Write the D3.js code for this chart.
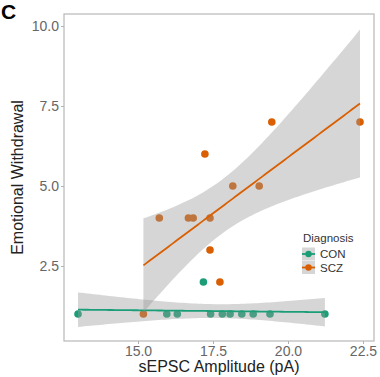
<!DOCTYPE html>
<html>
<head>
<meta charset="utf-8">
<script src="https://cdn.jsdelivr.net/npm/d3@7"></script>
<style>
  html, body { margin: 0; padding: 0; background: #fff; }
  svg { display: block; font-family: "Liberation Sans", Arial, sans-serif; }
</style>
</head>
<body>
<svg id="chart" width="380" height="377"></svg>
<script>
// ---- data ----
const groups = ["CON", "SCZ"];
const groupColors = ["#1b9e77", "#d95f02"];
const conAmplitude = [13.0, 15.96, 16.31, 17.18, 17.42, 17.81, 18.07, 18.46, 18.84, 19.4, 21.23];
const conWithdrawal = [1, 1, 1, 2, 1, 1, 1, 1, 1, 1, 1];
const sczAmplitude = [15.18, 15.71, 16.68, 16.84, 17.23, 17.4, 17.4, 17.73, 18.16, 19.04, 19.46, 22.4];
const sczWithdrawal = [1, 4, 4, 4, 6, 4, 3, 2, 5, 5, 7, 7];
const xTicks = [15.0, 17.5, 20.0, 22.5];
const yTicks = [2.5, 5.0, 7.5, 10.0];
const xDomain = [12.533, 22.867];
const yDomain = [0.156, 10.375];
const tCrit = {9: 2.262, 10: 2.228};

const svg = d3.select("#chart");
const L = 64, R = 374, T = 14, B = 341;
const x = d3.scaleLinear().domain(xDomain).range([L, R]);
const y = d3.scaleLinear().domain(yDomain).range([B, T]);

svg.append("rect").attr("x", L).attr("y", T).attr("width", R - L).attr("height", B - T).attr("fill", "#fff");

const data = [
  {name: groups[0], color: groupColors[0], xs: conAmplitude, ys: conWithdrawal},
  {name: groups[1], color: groupColors[1], xs: sczAmplitude, ys: sczWithdrawal}
];

// points
data.forEach(g => {
  svg.append("g").selectAll("circle").data(g.xs.map((v, i) => [v, g.ys[i]])).join("circle")
    .attr("cx", d => x(d[0])).attr("cy", d => y(d[1])).attr("r", 3.8)
    .attr("fill", g.color);
});

// linear fit with 95% CI
function fit(xs, ys) {
  const n = xs.length;
  const mx = d3.mean(xs), my = d3.mean(ys);
  let sxy = 0, sxx = 0;
  xs.forEach((v, i) => { sxy += (v - mx) * (ys[i] - my); sxx += (v - mx) * (v - mx); });
  const b = sxy / sxx, a = my - b * mx;
  let sse = 0;
  xs.forEach((v, i) => { const r = ys[i] - (a + b * v); sse += r * r; });
  const s = Math.sqrt(sse / (n - 2));
  const t = tCrit[n - 2] || 2.2;
  const [x0, x1] = d3.extent(xs);
  return d3.range(0, 81).map(k => {
    const xv = x0 + (x1 - x0) * k / 80;
    const yv = a + b * xv;
    const se = s * Math.sqrt(1 / n + (xv - mx) * (xv - mx) / sxx);
    return {x: xv, y: yv, lo: yv - t * se, hi: yv + t * se};
  });
}

data.forEach(g => {
  const pts = fit(g.xs, g.ys);
  svg.append("path").datum(pts)
    .attr("d", d3.area().x(d => x(d.x)).y0(d => y(d.lo)).y1(d => y(d.hi)))
    .attr("fill", "#999999").attr("fill-opacity", 0.4);
  svg.append("path").datum(pts)
    .attr("d", d3.line().x(d => x(d.x)).y(d => y(d.y)))
    .attr("fill", "none").attr("stroke", g.color).attr("stroke-width", 1.8);
});

// panel border
svg.append("rect").attr("x", L).attr("y", T).attr("width", R - L).attr("height", B - T)
  .attr("fill", "none").attr("stroke", "#b8b8b8").attr("stroke-width", 1.2);

// axes
const xAxis = svg.append("g").attr("transform", `translate(0,${B})`)
  .call(d3.axisBottom(x).tickValues(xTicks).tickFormat(d3.format(".1f")).tickSize(3).tickPadding(2));
const yAxis = svg.append("g").attr("transform", `translate(${L},0)`)
  .call(d3.axisLeft(y).tickValues(yTicks).tickFormat(d3.format(".1f")).tickSize(3).tickPadding(2));
[xAxis, yAxis].forEach(a => {
  a.select(".domain").remove();
  a.selectAll(".tick line").attr("stroke", "#b3b3b3");
  a.selectAll(".tick text").attr("fill", "#666").attr("font-size", 14)
    .attr("font-family", "Liberation Sans, Arial, sans-serif");
});

// axis titles
svg.append("text").attr("x", (L + R) / 2).attr("y", 372).attr("text-anchor", "middle")
  .attr("font-size", 16).attr("fill", "#222").text("sEPSC Amplitude (pA)");
svg.append("text").attr("transform", `translate(23,${(T + B) / 2}) rotate(-90)`)
  .attr("text-anchor", "middle").attr("font-size", 16).attr("fill", "#222").text("Emotional Withdrawal");

// panel tag
svg.append("text").attr("x", 1).attr("y", 19).attr("font-size", 21).attr("font-weight", "bold")
  .attr("fill", "#000").text("C");

// legend
const lg = svg.append("g");
lg.append("text").attr("x", 303).attr("y", 242).attr("font-size", 11.5).attr("fill", "#333").text("Diagnosis");
data.forEach((g, i) => {
  const cy = 254 + i * 13.5;
  lg.append("rect").attr("x", 302).attr("y", cy - 6.5).attr("width", 13).attr("height", 13)
    .attr("fill", "#999").attr("fill-opacity", 0.4);
  lg.append("line").attr("x1", 302).attr("x2", 315).attr("y1", cy).attr("y2", cy)
    .attr("stroke", g.color).attr("stroke-width", 1.8);
  lg.append("circle").attr("cx", 308.5).attr("cy", cy).attr("r", 3.2).attr("fill", g.color);
  lg.append("text").attr("x", 320).attr("y", cy + 4).attr("font-size", 11.5).attr("fill", "#333").text(g.name);
});
</script>
</body>
</html>
